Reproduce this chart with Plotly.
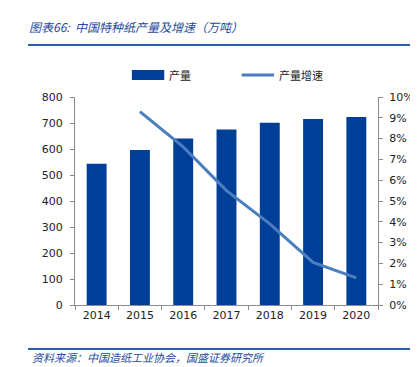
import plotly.graph_objects as go

years = ["2014", "2015", "2016", "2017", "2018", "2019", "2020"]
output = [543, 596, 640, 675, 701, 715, 723]
growth = [None, 9.3, 7.6, 5.5, 3.9, 2.05, 1.3]
left_ticks = [0, 100, 200, 300, 400, 500, 600, 700, 800]
right_ticks = [0, 1, 2, 3, 4, 5, 6, 7, 8, 9, 10]

title_text = "图表66:  中国特种纸产量及增速（万吨）"
source_text = "资料来源：中国造纸工业协会，国盛证券研究所"
bar_name = "产量"
line_name = "产量增速"

BAR = "#003f98"
LINE = "#4a7ebf"
AX = "#8c8c8c"
TXT = "#1e4b9a"
CJK = "Noto Sans CJK SC"
TICKF = dict(family="DejaVu Sans", size=11, color="#222222")

TOP, BOT, LEFT, RIGHT = 89, 297, 67, 376

fig = go.Figure()
fig.add_trace(go.Bar(x=years, y=output, name=bar_name, marker=dict(color=BAR, line=dict(width=0)),
                     width=0.46, yaxis="y", showlegend=False))
fig.add_trace(go.Scatter(x=years, y=growth, name=line_name, mode="lines",
                         line=dict(color=LINE, width=3), yaxis="y2", showlegend=False))

fig.update_layout(
    width=418, height=367,
    margin=dict(l=LEFT, r=418 - RIGHT, t=TOP, b=367 - BOT),
    paper_bgcolor="white", plot_bgcolor="white",
    xaxis=dict(type="category", showline=True, linecolor=AX, linewidth=1,
               ticks="outside", tickson="boundaries", ticklen=4, tickcolor=AX,
               tickfont=TICKF, showgrid=False, zeroline=False),
    yaxis=dict(range=[0, 800], tickvals=left_ticks, showline=True, linecolor=AX, linewidth=1,
               ticks="outside", ticklen=4, tickcolor=AX, tickfont=TICKF,
               ticklabelstandoff=5, showgrid=False, zeroline=False),
    yaxis2=dict(range=[0, 10], tickvals=right_ticks, ticktext=[f"{v}%" for v in right_ticks],
                overlaying="y", side="right", showline=True, linecolor=AX, linewidth=1,
                ticks="outside", ticklen=4, tickcolor=AX, tickfont=TICKF,
                ticklabelstandoff=4, showgrid=False, zeroline=False),
)

def px2x(px):
    return (px - LEFT) / (RIGHT - LEFT)

def py2y(py):
    return (BOT - py) / (BOT - TOP)

shapes = [
    dict(type="line", xref="paper", yref="paper", x0=px2x(19), x1=px2x(418), y0=py2y(37), y1=py2y(37),
         line=dict(color="#2a5caa", width=2)),
    dict(type="line", xref="paper", yref="paper", x0=px2x(19), x1=px2x(418), y0=py2y(341), y1=py2y(341),
         line=dict(color="#2a5caa", width=2)),
    dict(type="rect", xref="paper", yref="paper", x0=px2x(125), x1=px2x(158), y0=py2y(72), y1=py2y(62),
         fillcolor=BAR, line=dict(width=0)),
    dict(type="line", xref="paper", yref="paper", x0=px2x(237), x1=px2x(270), y0=py2y(67), y1=py2y(67),
         line=dict(color=LINE, width=3)),
]
fig.update_layout(shapes=shapes)

ann = [
    dict(text=f"<i>{title_text}</i>", x=px2x(18), y=py2y(18), xanchor="left", yanchor="middle",
         font=dict(family=CJK, size=12, color=TXT)),
    dict(text=f"<i>{source_text}</i>", x=px2x(21), y=py2y(349), xanchor="left", yanchor="middle",
         font=dict(family=CJK, size=11, color=TXT)),
    dict(text=bar_name, x=px2x(161), y=py2y(67), xanchor="left", yanchor="middle",
         font=dict(family=CJK, size=11, color="#222222")),
    dict(text=line_name, x=px2x(273), y=py2y(67), xanchor="left", yanchor="middle",
         font=dict(family=CJK, size=11, color="#222222")),
]
for a in ann:
    a.update(xref="paper", yref="paper", showarrow=False)
fig.update_layout(annotations=ann)

fig.write_html("out.html")
